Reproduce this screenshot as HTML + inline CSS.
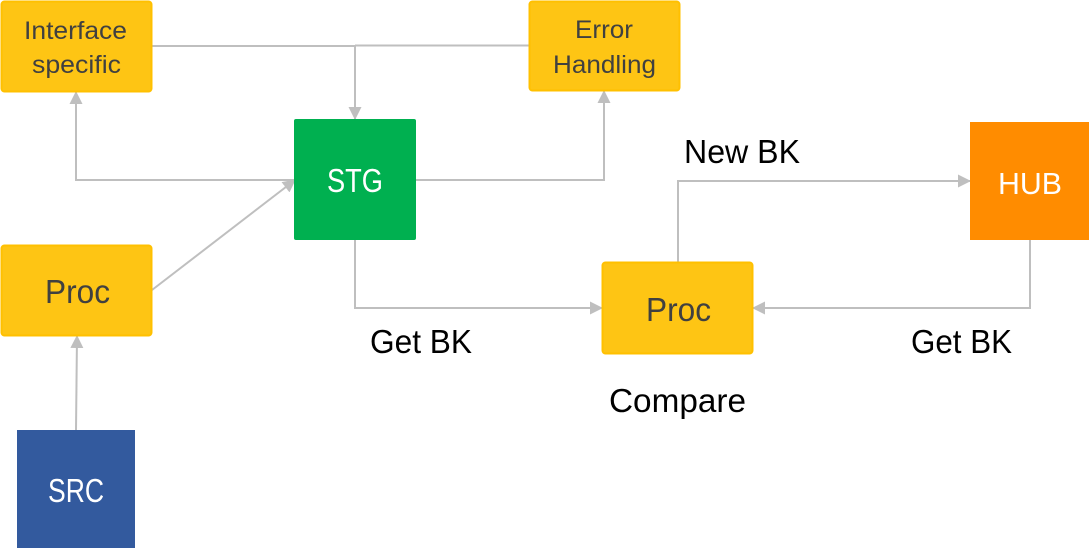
<!DOCTYPE html>
<html>
<head>
<meta charset="utf-8">
<style>
  html, body { margin: 0; padding: 0; background: #ffffff; }
  body { width: 1089px; height: 548px; overflow: hidden; }
  svg { display: block; }
  text { font-family: "Liberation Sans", "DejaVu Sans", sans-serif; }
</style>
</head>
<body>
<svg width="1089" height="548" viewBox="0 0 1089 548" xmlns="http://www.w3.org/2000/svg">
  <defs>
    <marker id="ah" markerWidth="13" markerHeight="13" refX="12" refY="6.5" orient="auto" markerUnits="userSpaceOnUse">
      <path d="M0,0 L13,6.5 L0,13 Z" fill="#BFBFBF"/>
    </marker>
  </defs>

  <!-- Connectors -->
  <g fill="none" stroke="#BFBFBF" stroke-width="2">
    <polyline points="152,46 355,46"/>
    <polyline points="355,45.5 530,45.5"/>
    <line x1="355" y1="46" x2="355" y2="119" marker-end="url(#ah)"/>
    <polyline points="294,180 76,180 76,92" marker-end="url(#ah)"/>
    <line x1="152" y1="290" x2="295" y2="180" marker-end="url(#ah)"/>
    <polyline points="416,180 604,180 604,91" marker-end="url(#ah)"/>
    <polyline points="355,240 355,308 602,308" marker-end="url(#ah)"/>
    <polyline points="678,262 678,181 970,181" marker-end="url(#ah)"/>
    <polyline points="1030,240 1030,308 753,308" marker-end="url(#ah)"/>
    <line x1="76" y1="430" x2="77" y2="336" marker-end="url(#ah)"/>
  </g>

  <!-- Boxes -->
  <rect x="1.5" y="1.5" width="150" height="90" rx="3" fill="#FEC514" stroke="#FFC000" stroke-width="2"/>
  <rect x="529.5" y="1.5" width="150" height="89" rx="3" fill="#FEC514" stroke="#FFC000" stroke-width="2"/>
  <rect x="294" y="119" width="122" height="121" rx="2" fill="#00B050"/>
  <rect x="1.5" y="245.5" width="150" height="90" rx="3" fill="#FEC514" stroke="#FFC000" stroke-width="2"/>
  <rect x="17" y="430" width="118" height="118" fill="#335A9E"/>
  <rect x="602.5" y="262.5" width="150" height="91" rx="3" fill="#FEC514" stroke="#FFC000" stroke-width="2"/>
  <rect x="970" y="122" width="119" height="118" fill="#FF8C00"/>

  <!-- Box labels -->
  <g fill="#404040">
    <text x="24" y="39" font-size="25" textLength="103" lengthAdjust="spacingAndGlyphs">Interface</text>
    <text x="32" y="73" font-size="25" textLength="89" lengthAdjust="spacingAndGlyphs">specific</text>
    <text x="575" y="38" font-size="25" textLength="58" lengthAdjust="spacingAndGlyphs">Error</text>
    <text x="553" y="73" font-size="25" textLength="103" lengthAdjust="spacingAndGlyphs">Handling</text>
    <text x="45" y="303" font-size="33" textLength="65" lengthAdjust="spacingAndGlyphs">Proc</text>
    <text x="646" y="321" font-size="33" textLength="65" lengthAdjust="spacingAndGlyphs">Proc</text>
  </g>
  <g fill="#ffffff">
    <text x="327" y="192" font-size="33" textLength="56" lengthAdjust="spacingAndGlyphs">STG</text>
    <text x="48" y="502" font-size="33" textLength="56" lengthAdjust="spacingAndGlyphs">SRC</text>
    <text x="998" y="194" font-size="31" textLength="64" lengthAdjust="spacingAndGlyphs">HUB</text>
  </g>

  <!-- Free labels -->
  <g fill="#000000" font-size="33">
    <text x="684" y="163" textLength="116" lengthAdjust="spacingAndGlyphs">New BK</text>
    <text x="370" y="353" textLength="102" lengthAdjust="spacingAndGlyphs">Get BK</text>
    <text x="911" y="353" textLength="101" lengthAdjust="spacingAndGlyphs">Get BK</text>
    <text x="609" y="412" textLength="137" lengthAdjust="spacingAndGlyphs">Compare</text>
  </g>
</svg>
</body>
</html>
